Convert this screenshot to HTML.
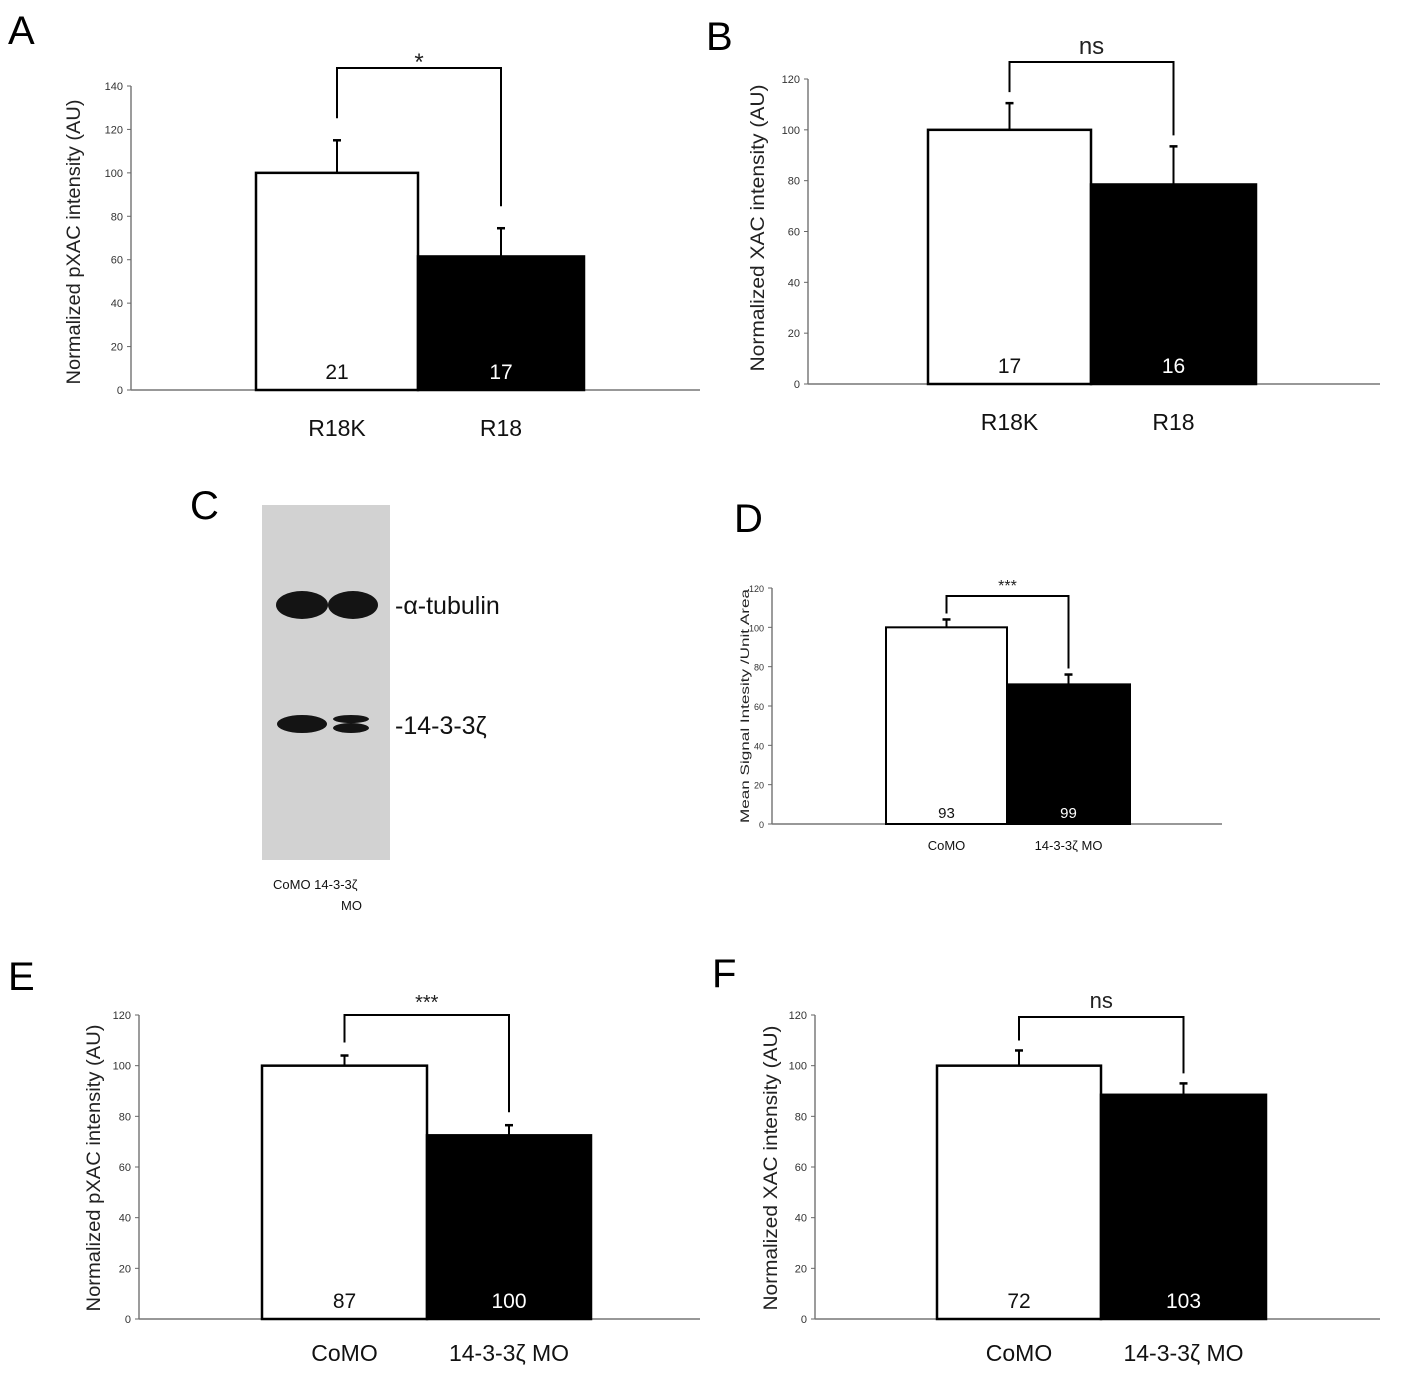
<!DOCTYPE html>
<html><head><meta charset="utf-8">
<style>
body{margin:0;background:#fff;width:1403px;height:1377px;overflow:hidden;font-family:"Liberation Sans",sans-serif}
svg{position:absolute;left:0;top:0}
text{font-family:"Liberation Sans","Noto Sans CJK SC",sans-serif}
</style></head>
<body>
<svg id="fig" width="1403" height="1377"></svg>
<script>
// Panel data
const catsAB = ["R18K","R18"];
const catsDEF = ["CoMO","14-3-3ζ MO"];
const valsA = [100, 61.5], errA = [115, 74.5], nA = ["21","17"];
const valsB = [100, 78.5], errB = [110.5, 93.5], nB = ["17","16"];
const valsD = [100, 71], errD = [104, 76], nD = ["93","99"];
const valsE = [100, 72.5], errE = [104, 76.5], nE = ["87","100"];
const valsF = [100, 88.5], errF = [106, 93], nF = ["72","103"];
const ticksA = [0,20,40,60,80,100,120,140];
const ticks120 = [0,20,40,60,80,100,120];

const NS="http://www.w3.org/2000/svg";
const svg=document.getElementById('fig');
function mk(tag,attrs,parent,txt){const e=document.createElementNS(NS,tag);for(const k in attrs)e.setAttribute(k,attrs[k]);if(txt!==undefined)e.textContent=txt;(parent||svg).appendChild(e);return e;}

function panel(c){
  const g=mk('g',{});
  
  
  const y=v=>c.y0-(v/c.ymax)*(c.y0-c.ytop);
  const ya=mk('line',{x1:c.ax,x2:c.ax,y1:c.ytop,y2:c.y0,stroke:'#666','stroke-width':1.3},g);
  
  const xa=mk('line',{x1:c.ax,x2:c.axEnd,y1:c.y0,y2:c.y0,stroke:'#777','stroke-width':1.5},g);
  
  c.ticks.forEach(t=>{
    mk('line',{x1:c.ax-4,x2:c.ax,y1:y(t),y2:y(t),stroke:'#666','stroke-width':1},g);
    const tl=mk('text',{x:c.ax-8,y:y(t)+4,'font-size':c.tfs,'text-anchor':'end',fill:'#333'},g,t);
    
  });
  const tt=mk('text',{x:0,y:0,'font-size':c.titleFs,'text-anchor':'middle',fill:'#222',textLength:c.titleLen,lengthAdjust:'spacingAndGlyphs',transform:`translate(${c.titleX},${c.titleY}) rotate(-90)`},g,c.title);
  
  const fills=['#fff','#000'];
  c.vals.forEach((v,i)=>{
    const x0=c.bx[i], x1=c.bx[i+1], cx=(x0+x1)/2;
    const b=mk('rect',{x:x0,y:y(v),width:x1-x0,height:c.y0-y(v),fill:fills[i],stroke:'#000','stroke-width':c.bsw},g);
    
    
    const e=mk('line',{x1:cx,x2:cx,y1:y(c.errs[i]),y2:y(v),stroke:'#000','stroke-width':2},g);
    
    mk('line',{x1:cx-4,x2:cx+4,y1:y(c.errs[i]),y2:y(c.errs[i]),stroke:'#000','stroke-width':2.5},g);
    const n=mk('text',{x:cx,y:c.y0-c.nOff,'font-size':c.nfs,'text-anchor':'middle',fill:i?'#fff':'#111'},g,c.ns[i]);
    
    const cl=mk('text',{x:cx,y:c.labY,'font-size':c.lfs,'text-anchor':'middle',fill:'#111'},g,c.cats[i]);
    
  });
  const cx0=(c.bx[0]+c.bx[1])/2, cx1=(c.bx[1]+c.bx[2])/2;
  const br=mk('polyline',{points:`${cx0},${y(c.errs[0])-c.gap} ${cx0},${c.brY} ${cx1},${c.brY} ${cx1},${y(c.errs[1])-c.gap}`,fill:'none',stroke:'#000','stroke-width':2},g);
  
  const s=mk('text',{x:(cx0+cx1)/2,y:c.brY-c.sigOff,'font-size':c.sfs,'text-anchor':'middle',fill:'#222'},g,c.sig);
  
  const L=mk('text',{x:c.L[0],y:c.L[1],'font-size':40,fill:'#000'},g,c.id);
  
}

panel({id:'A',cats:catsAB,vals:valsA,errs:errA,ns:nA,ticks:ticksA,ymax:140,ax:131,axEnd:700,y0:390,ytop:86,bx:[256,418,584],
 title:'Normalized pXAC intensity (AU)',titleX:80,titleY:242,titleLen:285,titleFs:19,tfs:11,nfs:21,nOff:11,lfs:23,labY:436,brY:68,gap:22,sig:'*',sigOff:-2,sfs:24,bsw:2.5,L:[8,44]});
panel({id:'B',cats:catsAB,vals:valsB,errs:errB,ns:nB,ticks:ticks120,ymax:120,ax:808,axEnd:1380,y0:384,ytop:79,bx:[928,1091,1256],
 title:'Normalized XAC intensity (AU)',titleX:764,titleY:228,titleLen:287,titleFs:19,tfs:11,nfs:21,nOff:11,lfs:23,labY:430,brY:62,gap:11,sig:'ns',sigOff:8,sfs:24,bsw:2.5,L:[706,50]});
panel({id:'D',cats:catsDEF,vals:valsD,errs:errD,ns:nD,ticks:ticks120,ymax:120,ax:772,axEnd:1222,y0:824,ytop:588,bx:[886,1007,1130],
 title:'Mean Signal Intesity /Unit Area',titleX:749,titleY:706,titleLen:234,titleFs:12,tfs:9,nfs:15,nOff:6,lfs:13,labY:850,brY:596,gap:6,sig:'***',sigOff:5,sfs:16,bsw:2,L:[734,532]});
panel({id:'E',cats:catsDEF,vals:valsE,errs:errE,ns:nE,ticks:ticks120,ymax:120,ax:139,axEnd:700,y0:1319,ytop:1015,bx:[262,427,591],
 title:'Normalized pXAC intensity (AU)',titleX:100,titleY:1168,titleLen:287,titleFs:19,tfs:11,nfs:21,nOff:11,lfs:23,labY:1361,brY:1015,gap:13,sig:'***',sigOff:6,sfs:20,bsw:2.5,L:[8,990]});
panel({id:'F',cats:catsDEF,vals:valsF,errs:errF,ns:nF,ticks:ticks120,ymax:120,ax:815,axEnd:1380,y0:1319,ytop:1015,bx:[937,1101,1266],
 title:'Normalized XAC intensity (AU)',titleX:777,titleY:1168,titleLen:285,titleFs:19,tfs:11,nfs:21,nOff:11,lfs:23,labY:1361,brY:1017,gap:10,sig:'ns',sigOff:9,sfs:22,bsw:2.5,L:[712,987]});

// Panel C western blot
const gc=mk('g',{});


mk('rect',{x:262,y:505,width:128,height:355,fill:'#d2d2d2'},gc);
const bands=[[302,605,26,14],[353,605,25,14],[302,724,25,9],[351,719,18,4],[351,728,18,5]];
bands.forEach(b=>{const e=mk('ellipse',{cx:b[0],cy:b[1],rx:b[2],ry:b[3],fill:'#141414'},gc);});
const cl=mk('text',{x:190,y:519,'font-size':40,fill:'#000'},gc,'C');
const t1=mk('text',{x:395,y:614,'font-size':25,fill:'#111'},gc,'-α-tubulin');
const t2=mk('text',{x:395,y:734,'font-size':25,fill:'#111'},gc,'-14-3-3ζ');
const l1=mk('text',{x:273,y:889,'font-size':13,fill:'#111'},gc,'CoMO 14-3-3ζ');
const l2=mk('text',{x:341,y:910,'font-size':13,fill:'#111'},gc,'MO');
</script>
</body></html>
